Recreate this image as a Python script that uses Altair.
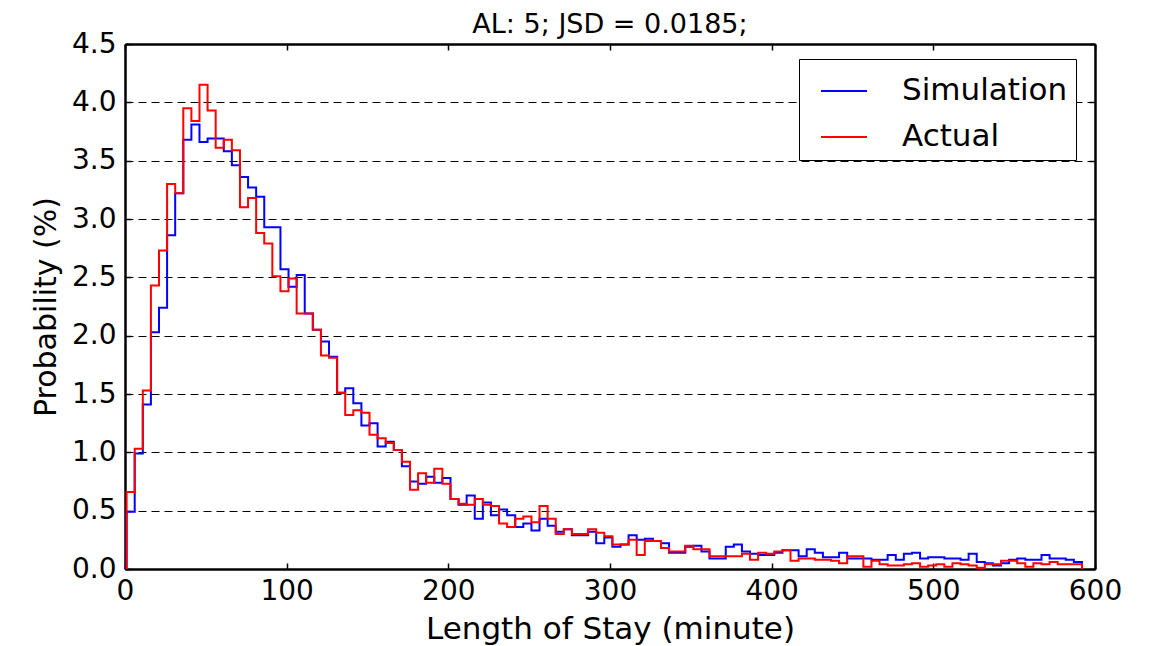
import altair as alt
import pandas as pd

title_text = "AL: 5; JSD = 0.0185;"
x_title = "Length of Stay (minute)"
y_title = "Probability (%)"
series_names = ["Simulation", "Actual"]
series_colors = ["#0000ff", "#ff0000"]
x_ticks = [0, 100, 200, 300, 400, 500, 600]
y_ticks = [0.0, 0.5, 1.0, 1.5, 2.0, 2.5, 3.0, 3.5, 4.0, 4.5]
bin_start = 1.0
bin_width = 5.008

simulation = [
    0.49, 0.99, 1.41, 2.03, 2.24, 2.86, 3.22, 3.68, 3.81, 3.66,
    3.69, 3.69, 3.58, 3.46, 3.36, 3.27, 3.19, 2.93, 2.93, 2.57,
    2.42, 2.52, 2.19, 2.05, 1.95, 1.82, 1.51, 1.55, 1.42, 1.23,
    1.25, 1.05, 1.09, 1.02, 0.88, 0.75, 0.73, 0.79, 0.74, 0.78,
    0.60, 0.55, 0.63, 0.43, 0.57, 0.46, 0.51, 0.46, 0.36, 0.39,
    0.33, 0.43, 0.37, 0.32, 0.34, 0.29, 0.29, 0.32, 0.22, 0.27,
    0.19, 0.21, 0.29, 0.25, 0.26, 0.24, 0.22, 0.14, 0.14, 0.19,
    0.20, 0.15, 0.09, 0.09, 0.19, 0.21, 0.15, 0.13, 0.12, 0.12,
    0.14, 0.16, 0.16, 0.11, 0.17, 0.14, 0.10, 0.10, 0.14, 0.09,
    0.09, 0.09, 0.08, 0.08, 0.12, 0.08, 0.13, 0.14, 0.09, 0.10,
    0.10, 0.09, 0.09, 0.08, 0.13, 0.06, 0.05, 0.03, 0.05, 0.08,
    0.09, 0.08, 0.08, 0.12, 0.09, 0.09, 0.08, 0.06,
]

actual = [
    0.66, 1.03, 1.53, 2.43, 2.73, 3.30, 3.22, 3.95, 3.84, 4.15,
    3.93, 3.61, 3.68, 3.59, 3.10, 3.18, 2.88, 2.79, 2.51, 2.38,
    2.49, 2.19, 2.19, 2.05, 1.83, 1.81, 1.51, 1.32, 1.36, 1.34,
    1.15, 1.12, 1.08, 1.02, 0.92, 0.68, 0.82, 0.74, 0.86, 0.73,
    0.60, 0.56, 0.55, 0.60, 0.55, 0.54, 0.39, 0.36, 0.43, 0.45,
    0.40, 0.54, 0.43, 0.30, 0.34, 0.30, 0.30, 0.34, 0.31, 0.28,
    0.21, 0.21, 0.25, 0.12, 0.24, 0.24, 0.18, 0.15, 0.15, 0.20,
    0.17, 0.17, 0.11, 0.11, 0.11, 0.11, 0.13, 0.08, 0.14, 0.13,
    0.15, 0.16, 0.07, 0.09, 0.09, 0.08, 0.08, 0.07, 0.05, 0.11,
    0.11, 0.02, 0.07, 0.04, 0.03, 0.03, 0.04, 0.05, 0.02, 0.03,
    0.04, 0.02, 0.05, 0.04, 0.03, 0.01, 0.04, 0.04, 0.07, 0.07,
    0.05, 0.02, 0.05, 0.04, 0.06, 0.04, 0.04, 0.04,
]


def step_rows(name, values):
    n = len(values)
    end = bin_start + bin_width * n
    rows = [{"series": name, "x": bin_start, "y": 0.0, "k": 0}]
    for i, v in enumerate(values):
        rows.append({"series": name, "x": bin_start + bin_width * i, "y": v, "k": i + 1})
    rows.append({"series": name, "x": end, "y": values[-1], "k": n + 1})
    rows.append({"series": name, "x": end, "y": 0.0, "k": n + 2})
    return rows


df_sim = pd.DataFrame(step_rows(series_names[0], simulation))
df_act = pd.DataFrame(step_rows(series_names[1], actual))
df_all = pd.concat([df_sim, df_act], ignore_index=True)

W, H = 970, 525
FONT = "DejaVu Sans"
FRAME_W = 2.5

xscale = alt.Scale(domain=[0, 600], nice=False, zero=False)
yscale = alt.Scale(domain=[0, 4.5], nice=False, zero=False)
cscale = alt.Scale(domain=series_names, range=series_colors)

legend = alt.Legend(
    orient="none", legendX=674, legendY=15, title=None,
    strokeColor="black", fillColor="white", padding=8,
    symbolType="stroke", symbolSize=2116, symbolStrokeWidth=2,
    symbolOffset=13, labelOffset=34, labelFontSize=31, labelFont=FONT,
    labelColor="black", labelLimit=400, rowPadding=7,
)

main_x_axis = alt.Axis(
    values=x_ticks, title=x_title, ticks=False, domain=True, domainColor="black",
    domainWidth=FRAME_W, grid=False, labelFlush=False, labelOverlap=False,
    labelFontSize=28, labelFont=FONT, labelColor="black", labelPadding=8,
    titleFontSize=31, titleFont=FONT, titleFontWeight="normal", titleColor="black",
    titlePadding=9, orient="bottom",
)
main_y_axis = alt.Axis(
    values=y_ticks, title=y_title, format=".1f", ticks=False, domain=True,
    domainColor="black", domainWidth=FRAME_W, labelFlush=False, labelOverlap=False,
    grid=True, gridDash=[8, 5], gridColor="black", gridWidth=1, gridOpacity=1,
    labelFontSize=28, labelFont=FONT, labelColor="black", labelPadding=9,
    titleFontSize=30, titleFont=FONT, titleFontWeight="normal", titleColor="black",
    titlePadding=10, orient="left",
)


def tick_axis(vals, orient, offset, domain):
    return alt.Axis(values=vals, orient=orient, offset=offset, labels=False, title=None,
                    domain=domain, domainColor="black", domainWidth=FRAME_W,
                    grid=False, ticks=True, tickSize=6, tickWidth=1.5,
                    tickColor="black")


sim_line = alt.Chart(df_sim).mark_line(interpolate="step-after", strokeWidth=2).encode(
    x=alt.X("x:Q", scale=xscale, axis=main_x_axis),
    y=alt.Y("y:Q", scale=yscale, axis=main_y_axis),
    color=alt.Color("series:N", scale=cscale, legend=legend),
    order=alt.Order("k:Q"),
)
act_line = alt.Chart(df_act).mark_line(interpolate="step-after", strokeWidth=2).encode(
    x=alt.X("x:Q", scale=xscale, axis=None),
    y=alt.Y("y:Q", scale=yscale, axis=None),
    color=alt.Color("series:N", scale=cscale, legend=legend),
    order=alt.Order("k:Q"),
)

ticks_a = alt.Chart(df_all).mark_point(opacity=0).encode(
    x=alt.X("x:Q", scale=xscale, axis=tick_axis(x_ticks, "top", -H, False)),
    y=alt.Y("y:Q", scale=yscale, axis=tick_axis(y_ticks, "right", -W, False)),
)
ticks_b = alt.Chart(df_all).mark_point(opacity=0).encode(
    x=alt.X("x:Q", scale=xscale, axis=tick_axis(x_ticks, "bottom", -H, True)),
    y=alt.Y("y:Q", scale=yscale, axis=tick_axis(y_ticks, "left", -W, True)),
)

chart = alt.layer(sim_line, act_line, ticks_a, ticks_b).resolve_axis(
    x="independent", y="independent"
).properties(
    width=W, height=H,
    title=alt.Title(title_text, fontSize=27, font=FONT, fontWeight="normal",
                    color="black", offset=-9, anchor="middle", frame="group"),
    autosize=alt.AutoSizeParams(type="none"),
    padding={"left": 117, "top": 36, "right": 45, "bottom": 85},
).configure_view(
    strokeWidth=0,
).configure(background="white")

chart.save("out.html", embed_options={"renderer": "svg", "actions": False})
